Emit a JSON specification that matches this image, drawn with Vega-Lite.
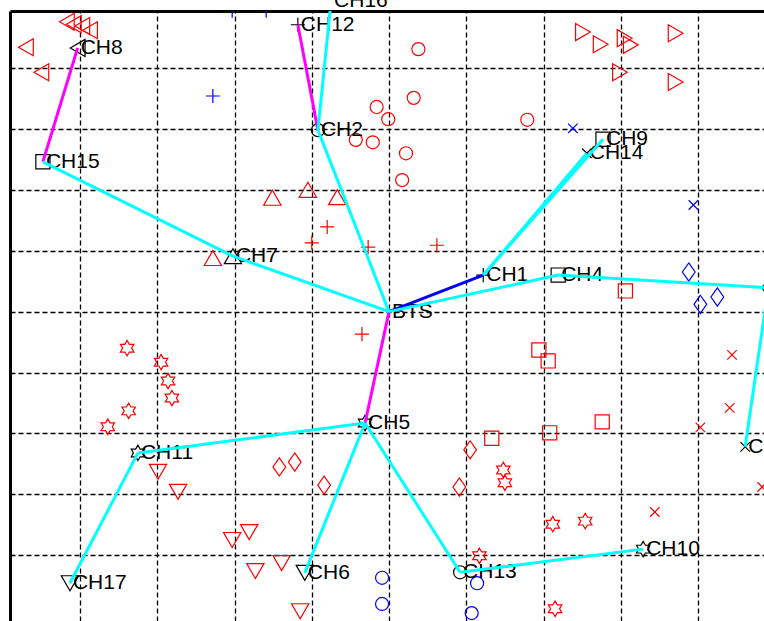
{
  "$schema": "https://vega.github.io/schema/vega-lite/v6.json",
  "width": 754,
  "height": 610,
  "autosize": {"type": "none"},
  "padding": {"left": 10, "top": 11, "right": 0, "bottom": 0},
  "background": "white",
  "config": {
    "view": {"stroke": null},
    "axis": {
      "labels": false, "ticks": false, "title": null, "grid": true,
      "gridColor": "#000000", "gridDash": [5, 3], "gridWidth": 1.3, "gridOpacity": 1,
      "domain": true, "domainColor": "#000000", "domainWidth": 3
    }
  },
  "datasets": {
    "pts": [
      {"x": 8.3, "y": 97.6, "m": "<", "g": "member"},
      {"x": 9.2, "y": 97.2, "m": "<", "g": "member"},
      {"x": 10.3, "y": 96.9, "m": "<", "g": "member"},
      {"x": 11.3, "y": 96.2, "m": "<", "g": "member"},
      {"x": 3.0, "y": 93.4, "m": "<", "g": "member"},
      {"x": 5.0, "y": 89.3, "m": "<", "g": "member"},
      {"x": 34.9, "y": 68.7, "m": "^", "g": "member"},
      {"x": 39.5, "y": 70.0, "m": "^", "g": "member"},
      {"x": 43.3, "y": 68.8, "m": "^", "g": "member"},
      {"x": 27.2, "y": 58.8, "m": "^", "g": "member"},
      {"x": 53.8, "y": 93.1, "m": "o", "g": "member"},
      {"x": 53.2, "y": 85.1, "m": "o", "g": "member"},
      {"x": 48.4, "y": 83.6, "m": "o", "g": "member"},
      {"x": 49.9, "y": 81.6, "m": "o", "g": "member"},
      {"x": 45.7, "y": 78.2, "m": "o", "g": "member"},
      {"x": 47.9, "y": 77.8, "m": "o", "g": "member"},
      {"x": 52.2, "y": 76.0, "m": "o", "g": "member"},
      {"x": 51.7, "y": 71.6, "m": "o", "g": "member"},
      {"x": 67.9, "y": 81.5, "m": "o", "g": "member"},
      {"x": 42.0, "y": 63.9, "m": "+", "g": "member"},
      {"x": 40.0, "y": 61.3, "m": "+", "g": "member"},
      {"x": 47.3, "y": 60.6, "m": "+", "g": "member"},
      {"x": 56.2, "y": 60.9, "m": "+", "g": "member"},
      {"x": 46.5, "y": 46.3, "m": "+", "g": "member"},
      {"x": 27.2, "y": 85.4, "m": "+", "g": "remote"},
      {"x": 29.7, "y": 99.4, "m": "+", "g": "remote"},
      {"x": 34.1, "y": 99.4, "m": "+", "g": "remote"},
      {"x": 73.8, "y": 80.1, "m": "x", "g": "remote"},
      {"x": 89.4, "y": 67.5, "m": "x", "g": "remote"},
      {"x": 75.1, "y": 95.9, "m": ">", "g": "member"},
      {"x": 77.4, "y": 93.9, "m": ">", "g": "member"},
      {"x": 80.5, "y": 94.9, "m": ">", "g": "member"},
      {"x": 81.3, "y": 93.8, "m": ">", "g": "member"},
      {"x": 79.9, "y": 89.3, "m": ">", "g": "member"},
      {"x": 87.1, "y": 95.7, "m": ">", "g": "member"},
      {"x": 87.1, "y": 87.7, "m": ">", "g": "member"},
      {"x": 88.8, "y": 56.5, "m": "d", "g": "remote"},
      {"x": 90.3, "y": 51.2, "m": "d", "g": "remote"},
      {"x": 92.5, "y": 52.4, "m": "d", "g": "remote"},
      {"x": 80.6, "y": 53.4, "m": "s", "g": "member"},
      {"x": 69.4, "y": 43.7, "m": "s", "g": "member"},
      {"x": 70.6, "y": 41.9, "m": "s", "g": "member"},
      {"x": 70.8, "y": 30.1, "m": "s", "g": "member"},
      {"x": 77.6, "y": 31.9, "m": "s", "g": "member"},
      {"x": 63.3, "y": 29.2, "m": "s", "g": "member"},
      {"x": 94.4, "y": 42.9, "m": "x", "g": "member"},
      {"x": 94.1, "y": 34.2, "m": "x", "g": "member"},
      {"x": 90.3, "y": 31.0, "m": "x", "g": "member"},
      {"x": 84.4, "y": 17.1, "m": "x", "g": "member"},
      {"x": 98.3, "y": 21.2, "m": "x", "g": "member"},
      {"x": 16.1, "y": 44.0, "m": "h", "g": "member"},
      {"x": 20.5, "y": 41.7, "m": "h", "g": "member"},
      {"x": 21.4, "y": 38.6, "m": "h", "g": "member"},
      {"x": 21.9, "y": 35.8, "m": "h", "g": "member"},
      {"x": 16.3, "y": 33.7, "m": "h", "g": "member"},
      {"x": 13.6, "y": 31.1, "m": "h", "g": "member"},
      {"x": 64.8, "y": 24.0, "m": "h", "g": "member"},
      {"x": 65.0, "y": 21.9, "m": "h", "g": "member"},
      {"x": 71.2, "y": 15.1, "m": "h", "g": "member"},
      {"x": 75.4, "y": 15.6, "m": "h", "g": "member"},
      {"x": 71.5, "y": 1.2, "m": "h", "g": "member"},
      {"x": 61.7, "y": 9.9, "m": "h", "g": "member"},
      {"x": 35.8, "y": 24.5, "m": "d", "g": "member"},
      {"x": 37.8, "y": 25.3, "m": "d", "g": "member"},
      {"x": 41.6, "y": 21.5, "m": "d", "g": "member"},
      {"x": 60.5, "y": 27.3, "m": "d", "g": "member"},
      {"x": 59.1, "y": 21.2, "m": "d", "g": "member"},
      {"x": 20.1, "y": 23.7, "m": "v", "g": "member"},
      {"x": 22.7, "y": 20.4, "m": "v", "g": "member"},
      {"x": 29.7, "y": 12.5, "m": "v", "g": "member"},
      {"x": 31.9, "y": 13.8, "m": "v", "g": "member"},
      {"x": 32.7, "y": 7.4, "m": "v", "g": "member"},
      {"x": 36.1, "y": 8.7, "m": "v", "g": "member"},
      {"x": 38.5, "y": 0.8, "m": "v", "g": "member"},
      {"x": 49.1, "y": 6.3, "m": "o", "g": "remote"},
      {"x": 49.1, "y": 2.0, "m": "o", "g": "remote"},
      {"x": 61.4, "y": 5.4, "m": "o", "g": "remote"},
      {"x": 60.7, "y": 0.5, "m": "o", "g": "remote"},
      {"x": 62.2, "y": 56.0, "m": "+", "g": "head", "label": "CH1"},
      {"x": 40.8, "y": 79.8, "m": "o", "g": "head", "label": "CH2"},
      {"x": 99.1, "y": 53.9, "m": "d", "g": "head", "label": "CH3"},
      {"x": 71.9, "y": 56.0, "m": "s", "g": "head", "label": "CH4"},
      {"x": 46.9, "y": 31.7, "m": "h", "g": "head", "label": "CH5"},
      {"x": 39.1, "y": 7.1, "m": "v", "g": "head", "label": "CH6"},
      {"x": 29.8, "y": 59.1, "m": "^", "g": "head", "label": "CH7"},
      {"x": 9.7, "y": 93.3, "m": "<", "g": "head", "label": "CH8"},
      {"x": 77.7, "y": 78.3, "m": "s", "g": "head", "label": "CH9"},
      {"x": 82.9, "y": 11.0, "m": "h", "g": "head", "label": "CH10"},
      {"x": 17.5, "y": 26.8, "m": "h", "g": "head", "label": "CH11"},
      {"x": 38.2, "y": 97.1, "m": "+", "g": "head", "label": "CH12"},
      {"x": 59.2, "y": 7.2, "m": "o", "g": "head", "label": "CH13"},
      {"x": 75.6, "y": 76.0, "m": "x", "g": "head", "label": "CH14"},
      {"x": 5.2, "y": 74.6, "m": "s", "g": "head", "label": "CH15"},
      {"x": 42.5, "y": 101.0, "m": "+", "g": "head", "label": "CH16"},
      {"x": 8.7, "y": 5.4, "m": "v", "g": "head", "label": "CH17"},
      {"x": 96.1, "y": 27.8, "m": "x", "g": "head", "label": "CH18"},
      {"x": 50.0, "y": 50.0, "m": "none", "g": "head", "label": "BTS"}
    ],
    "edges": [
      {"x": 9.7, "y": 93.3, "x2": 5.2, "y2": 74.6, "link": "magenta"},
      {"x": 38.2, "y": 97.1, "x2": 40.8, "y2": 79.8, "link": "magenta"},
      {"x": 50.0, "y": 50.0, "x2": 46.9, "y2": 31.7, "link": "magenta"},
      {"x": 50.0, "y": 50.0, "x2": 62.2, "y2": 56.0, "link": "blue"},
      {"x": 5.2, "y": 74.6, "x2": 29.8, "y2": 59.1, "link": "cyan"},
      {"x": 29.8, "y": 59.1, "x2": 50.0, "y2": 50.0, "link": "cyan"},
      {"x": 40.8, "y": 79.8, "x2": 42.5, "y2": 101.0, "link": "cyan"},
      {"x": 40.8, "y": 79.8, "x2": 50.0, "y2": 50.0, "link": "cyan"},
      {"x": 62.2, "y": 56.0, "x2": 77.7, "y2": 78.3, "link": "cyan"},
      {"x": 62.2, "y": 56.0, "x2": 75.6, "y2": 76.0, "link": "cyan"},
      {"x": 50.0, "y": 50.0, "x2": 71.9, "y2": 56.0, "link": "cyan"},
      {"x": 71.9, "y": 56.0, "x2": 99.1, "y2": 53.9, "link": "cyan"},
      {"x": 99.1, "y": 53.9, "x2": 96.1, "y2": 27.8, "link": "cyan"},
      {"x": 46.9, "y": 31.7, "x2": 17.5, "y2": 26.8, "link": "cyan"},
      {"x": 17.5, "y": 26.8, "x2": 8.7, "y2": 5.4, "link": "cyan"},
      {"x": 46.9, "y": 31.7, "x2": 39.1, "y2": 7.1, "link": "cyan"},
      {"x": 46.9, "y": 31.7, "x2": 59.2, "y2": 7.2, "link": "cyan"},
      {"x": 59.2, "y": 7.2, "x2": 82.9, "y2": 11.0, "link": "cyan"}
    ]
  },
  "resolve": {"scale": {"color": "independent"}},
  "layer": [
    {
      "data": {"name": "pts"},
      "transform": [{"filter": "datum.m === '<'"}],
      "mark": {"type": "point", "shape": "triangle-left", "size": 290, "strokeWidth": 1.2, "filled": false, "opacity": 1, "clip": true},
      "encoding": {
        "x": {"field": "x", "type": "quantitative", "scale": {"domain": [0.94, 98.54], "nice": false, "zero": false}, "axis": {"orient": "top", "values": [10, 20, 30, 40, 50, 60, 70, 80, 90]}},
        "y": {"field": "y", "type": "quantitative", "scale": {"domain": [-0.8, 99.36], "nice": false, "zero": false}, "axis": {"orient": "left", "values": [10, 20, 30, 40, 50, 60, 70, 80, 90]}},
        "color": {"field": "g", "type": "nominal", "scale": {"domain": ["member", "remote", "head"], "range": ["#ff0000", "#0000ff", "#000000"]}, "legend": null}
      }
    },
    {
      "data": {"name": "pts"},
      "transform": [{"filter": "datum.m === '>'"}],
      "mark": {"type": "point", "shape": "triangle-right", "size": 290, "strokeWidth": 1.2, "filled": false, "opacity": 1, "clip": true},
      "encoding": {
        "x": {"field": "x", "type": "quantitative"},
        "y": {"field": "y", "type": "quantitative"},
        "color": {"field": "g", "type": "nominal", "scale": {"domain": ["member", "remote", "head"], "range": ["#ff0000", "#0000ff", "#000000"]}, "legend": null}
      }
    },
    {
      "data": {"name": "pts"},
      "transform": [{"filter": "datum.m === '^'"}],
      "mark": {"type": "point", "shape": "triangle-up", "size": 300, "strokeWidth": 1.2, "filled": false, "opacity": 1, "clip": true},
      "encoding": {
        "x": {"field": "x", "type": "quantitative"},
        "y": {"field": "y", "type": "quantitative"},
        "color": {"field": "g", "type": "nominal", "scale": {"domain": ["member", "remote", "head"], "range": ["#ff0000", "#0000ff", "#000000"]}, "legend": null}
      }
    },
    {
      "data": {"name": "pts"},
      "transform": [{"filter": "datum.m === 'v'"}],
      "mark": {"type": "point", "shape": "triangle-down", "size": 300, "strokeWidth": 1.2, "filled": false, "opacity": 1, "clip": true},
      "encoding": {
        "x": {"field": "x", "type": "quantitative"},
        "y": {"field": "y", "type": "quantitative"},
        "color": {"field": "g", "type": "nominal", "scale": {"domain": ["member", "remote", "head"], "range": ["#ff0000", "#0000ff", "#000000"]}, "legend": null}
      }
    },
    {
      "data": {"name": "pts"},
      "transform": [{"filter": "datum.m === 'o'"}],
      "mark": {"type": "point", "shape": "circle", "size": 170, "strokeWidth": 1.2, "filled": false, "opacity": 1, "clip": true},
      "encoding": {
        "x": {"field": "x", "type": "quantitative"},
        "y": {"field": "y", "type": "quantitative"},
        "color": {"field": "g", "type": "nominal", "scale": {"domain": ["member", "remote", "head"], "range": ["#ff0000", "#0000ff", "#000000"]}, "legend": null}
      }
    },
    {
      "data": {"name": "pts"},
      "transform": [{"filter": "datum.m === 's'"}],
      "mark": {"type": "point", "shape": "square", "size": 200, "strokeWidth": 1.2, "filled": false, "opacity": 1, "clip": true},
      "encoding": {
        "x": {"field": "x", "type": "quantitative"},
        "y": {"field": "y", "type": "quantitative"},
        "color": {"field": "g", "type": "nominal", "scale": {"domain": ["member", "remote", "head"], "range": ["#ff0000", "#0000ff", "#000000"]}, "legend": null}
      }
    },
    {
      "data": {"name": "pts"},
      "transform": [{"filter": "datum.m === 'd'"}],
      "mark": {"type": "point", "shape": "M0,-1L0.7,0L0,1L-0.7,0Z", "size": 330, "strokeWidth": 1.2, "filled": false, "opacity": 1, "clip": true},
      "encoding": {
        "x": {"field": "x", "type": "quantitative"},
        "y": {"field": "y", "type": "quantitative"},
        "color": {"field": "g", "type": "nominal", "scale": {"domain": ["member", "remote", "head"], "range": ["#ff0000", "#0000ff", "#000000"]}, "legend": null}
      }
    },
    {
      "data": {"name": "pts"},
      "transform": [{"filter": "datum.m === 'h'"}],
      "mark": {"type": "point", "shape": "M0,-1L-0.289,-0.5L-0.866,-0.5L-0.577,0L-0.866,0.5L-0.289,0.5L0,1L0.289,0.5L0.866,0.5L0.577,0L0.866,-0.5L0.289,-0.5Z", "size": 240, "strokeWidth": 1.2, "filled": false, "opacity": 1, "clip": true},
      "encoding": {
        "x": {"field": "x", "type": "quantitative"},
        "y": {"field": "y", "type": "quantitative"},
        "color": {"field": "g", "type": "nominal", "scale": {"domain": ["member", "remote", "head"], "range": ["#ff0000", "#0000ff", "#000000"]}, "legend": null}
      }
    },
    {
      "data": {"name": "pts"},
      "transform": [{"filter": "datum.m === '+'"}],
      "mark": {"type": "point", "shape": "M-1,0L1,0M0,-1L0,1", "size": 200, "strokeWidth": 1.2, "filled": false, "opacity": 1, "clip": true},
      "encoding": {
        "x": {"field": "x", "type": "quantitative"},
        "y": {"field": "y", "type": "quantitative"},
        "color": {"field": "g", "type": "nominal", "scale": {"domain": ["member", "remote", "head"], "range": ["#ff0000", "#0000ff", "#000000"]}, "legend": null}
      }
    },
    {
      "data": {"name": "pts"},
      "transform": [{"filter": "datum.m === 'x'"}],
      "mark": {"type": "point", "shape": "M-1,-1L1,1M-1,1L1,-1", "size": 90, "strokeWidth": 1.2, "filled": false, "opacity": 1, "clip": true},
      "encoding": {
        "x": {"field": "x", "type": "quantitative"},
        "y": {"field": "y", "type": "quantitative"},
        "color": {"field": "g", "type": "nominal", "scale": {"domain": ["member", "remote", "head"], "range": ["#ff0000", "#0000ff", "#000000"]}, "legend": null}
      }
    },
    {
      "data": {"name": "pts"},
      "transform": [{"filter": "datum.label != null"}],
      "mark": {"type": "text", "align": "left", "baseline": "middle", "dx": 3, "font": "Liberation Sans", "fontSize": 21, "color": "#000000"},
      "encoding": {
        "x": {"field": "x", "type": "quantitative"},
        "y": {"field": "y", "type": "quantitative"},
        "text": {"field": "label"}
      }
    },
    {
      "data": {"name": "edges"},
      "mark": {"type": "rule", "strokeWidth": 3, "clip": true},
      "encoding": {
        "x": {"field": "x", "type": "quantitative"},
        "y": {"field": "y", "type": "quantitative"},
        "x2": {"field": "x2"},
        "y2": {"field": "y2"},
        "color": {"field": "link", "type": "nominal", "scale": {"domain": ["cyan", "magenta", "blue"], "range": ["#00ffff", "#ff00ff", "#0000ff"]}, "legend": null}
      }
    }
  ]
}
